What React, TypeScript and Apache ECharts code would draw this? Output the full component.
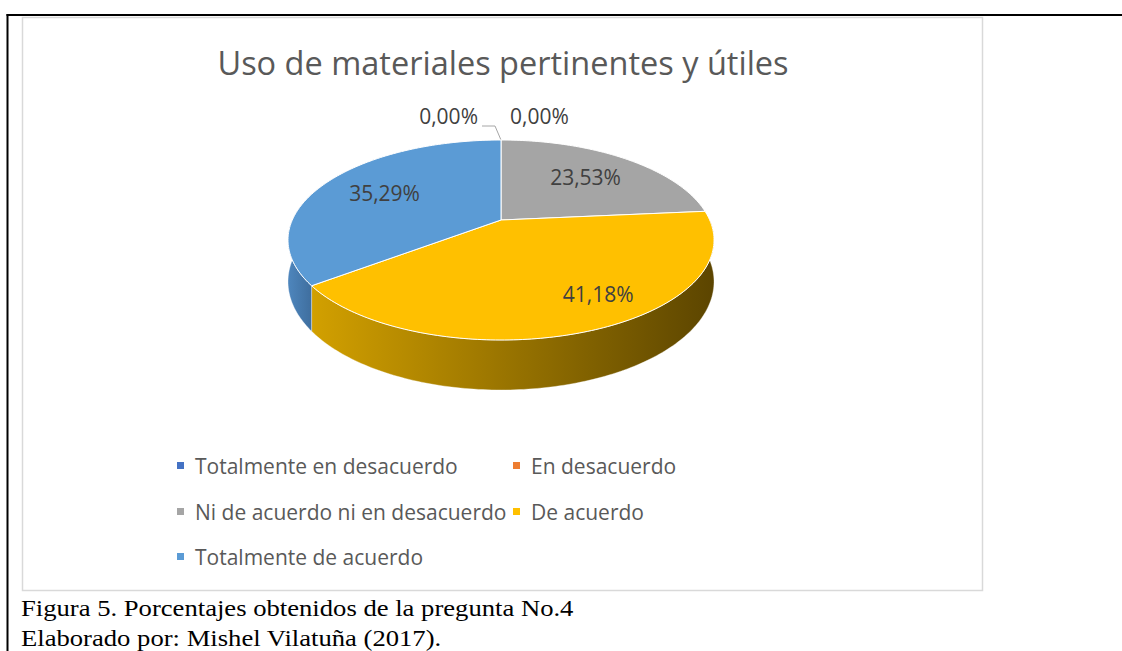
import React, { useEffect, useRef } from "react";
import * as echarts from "echarts";

const chartTitle = "Uso de materiales pertinentes y útiles";
const categories = [
  "Totalmente en desacuerdo",
  "En desacuerdo",
  "Ni de acuerdo ni en desacuerdo",
  "De acuerdo",
  "Totalmente de acuerdo",
];
const values = [0, 0, 23.53, 41.18, 35.29];
const topColors = ["#4472C4", "#ED7D31", "#A5A5A5", "#FFC000", "#5B9BD5"];
const sideLeftColors = ["#3A62A8", "#C9692A", "#8C8C8C", "#D2A000", "#4E86BD"];
const sideRightColors = ["#2A4A80", "#7A3F18", "#555555", "#5C4500", "#3F6E9E"];
const captionLines = [
  "Figura 5. Porcentajes obtenidos de la pregunta No.4",
  "Elaborado por: Mishel Vilatuña (2017).",
];

// geometry of the projected pie
const CX = 501;
const CY = 220;
const RX = 208.7;
const RY = 96;
const K = 0.2;
const DEPTH = 40;

const total = values.reduce((a, b) => a + b, 0);

function proj(deg: number, f = 1): [number, number, number] {
  const t = (deg * Math.PI) / 180;
  const X = f * Math.sin(t);
  const Z = f * Math.cos(t);
  const w = 1 / (1 + K * Z);
  return [CX + RX * X * w, CY - RY * Z * w, w];
}

function arc(a0: number, a1: number): [number, number, number][] {
  const n = Math.max(2, Math.ceil(Math.abs(a1 - a0)));
  const pts: [number, number, number][] = [];
  for (let i = 0; i <= n; i++) pts.push(proj(a0 + ((a1 - a0) * i) / n));
  return pts;
}

function fmt(v: number) {
  return v.toFixed(2).replace(".", ",") + "%";
}

const labelFont = '21px "Open Sans", sans-serif';

function makeRenderItem(idx: number) {
  return (_params: any, api: any) => {
    const v = api.value(0) as number;
    const before = values.slice(0, idx).reduce((a, b) => a + b, 0);
    const start = (before / total) * 360;
    const end = start + (v / total) * 360;
    const children: any[] = [];
    if (v > 0) {
      const s0 = Math.max(start, 90);
      const s1 = Math.min(end, 270);
      if (s1 > s0) {
        const topPts = arc(s0, s1);
        const botPts = topPts
          .map((p) => [p[0], p[1] + DEPTH * p[2]] as [number, number])
          .reverse();
        children.push({
          type: "polygon",
          shape: { points: [...topPts.map((p) => [p[0], p[1]]), ...botPts] },
          style: {
            fill: new echarts.graphic.LinearGradient(0, 0, 1, 0, [
              { offset: 0, color: sideLeftColors[idx] },
              { offset: 1, color: sideRightColors[idx] },
            ]),
            stroke: "rgba(255,255,255,0.6)",
            lineWidth: 0.6,
          },
        });
      }
      const c = proj(0, 0);
      const pts = [[c[0], c[1]], ...arc(start, end).map((p) => [p[0], p[1]])];
      children.push({
        type: "polygon",
        shape: { points: pts },
        style: { fill: topColors[idx], stroke: "#ffffff", lineWidth: 1 },
      });
      const mid = (start + end) / 2;
      // slices reaching the front wall get their label pushed outward
      const f = end > 180 && start < 180 ? 0.78 : 0.66;
      const lp = proj(mid - (f > 0.7 ? 10 : 0), f);
      children.push({
        type: "text",
        x: lp[0],
        y: lp[1],
        style: {
          text: fmt(v),
          fill: "#404040",
          font: labelFont,
          align: "center",
          verticalAlign: "middle",
        },
      });
    } else {
      const zeroIdx = values.slice(0, idx).filter((x) => x === 0).length;
      const top = proj(start, 1);
      if (zeroIdx === 0) {
        children.push({
          type: "text",
          x: top[0] - 23,
          y: top[1] - 24,
          style: {
            text: fmt(v),
            fill: "#404040",
            font: labelFont,
            align: "right",
            verticalAlign: "middle",
          },
        });
        children.push({
          type: "polyline",
          shape: {
            points: [
              [top[0] - 19, top[1] - 14],
              [top[0] - 6, top[1] - 14],
              [top[0], top[1]],
            ],
          },
          style: { stroke: "#A6A6A6", lineWidth: 1, fill: "none" },
        });
      } else {
        children.push({
          type: "text",
          x: top[0] + 9,
          y: top[1] - 24,
          style: {
            text: fmt(v),
            fill: "#404040",
            font: labelFont,
            align: "left",
            verticalAlign: "middle",
          },
        });
      }
    }
    return { type: "group", children };
  };
}

const legendPos = [
  { left: 177, top: 455 },
  { left: 513, top: 455 },
  { left: 177, top: 501 },
  { left: 513, top: 501 },
  { left: 177, top: 546 },
];

export default function App() {
  const ref = useRef<HTMLDivElement>(null);
  useEffect(() => {
    if (!ref.current) return;
    document.body.style.margin = "0";
    const chart = echarts.init(ref.current, undefined, { renderer: "svg" });
    const series = categories.map((name, i) => ({
      type: "custom",
      name,
      coordinateSystem: "none",
      itemStyle: { color: topColors[i] },
      data: [[values[i]]],
      renderItem: makeRenderItem(i),
      silent: true,
    }));
    const legend = categories.map((name, i) => ({
      data: [name],
      left: legendPos[i].left,
      top: legendPos[i].top,
      padding: 0,
      icon: "rect",
      itemWidth: 7,
      itemHeight: 7,
      selectedMode: false,
      textStyle: {
        color: "#595959",
        fontSize: 21,
        fontFamily: '"Open Sans", sans-serif',
        padding: [0, 0, 0, 6],
      },
    }));
    chart.setOption({
      animation: false,
      backgroundColor: "#ffffff",
      legend,
      graphic: [
        {
          type: "rect",
          shape: { x: 22.5, y: 17.5, width: 960, height: 573 },
          style: { fill: "#ffffff", stroke: "#D9D9D9", lineWidth: 1.5 },
          z: -10,
        },
        {
          type: "line",
          shape: { x1: 6.5, y1: 15, x2: 1122, y2: 15 },
          style: { stroke: "#000000", lineWidth: 2 },
        },
        {
          type: "line",
          shape: { x1: 7.5, y1: 14, x2: 7.5, y2: 651 },
          style: { stroke: "#000000", lineWidth: 2 },
        },
        {
          type: "text",
          x: 503,
          y: 62,
          style: {
            text: chartTitle,
            fill: "#595959",
            font: '32.5px "Open Sans", sans-serif',
            align: "center",
            verticalAlign: "middle",
          },
        },
        ...captionLines.map((t, i) => ({
          type: "text",
          x: 21,
          y: 607 + i * 30,
          scaleX: 1.11,
          style: {
            text: t,
            fill: "#000000",
            font: '24px "Liberation Serif", serif',
            align: "left",
            verticalAlign: "middle",
          },
        })),
      ],
      series,
    });
    return () => chart.dispose();
  }, []);
  return (
    <div
      ref={ref}
      style={{ position: "fixed", left: 0, top: 0, width: 1122, height: 651 }}
    />
  );
}
